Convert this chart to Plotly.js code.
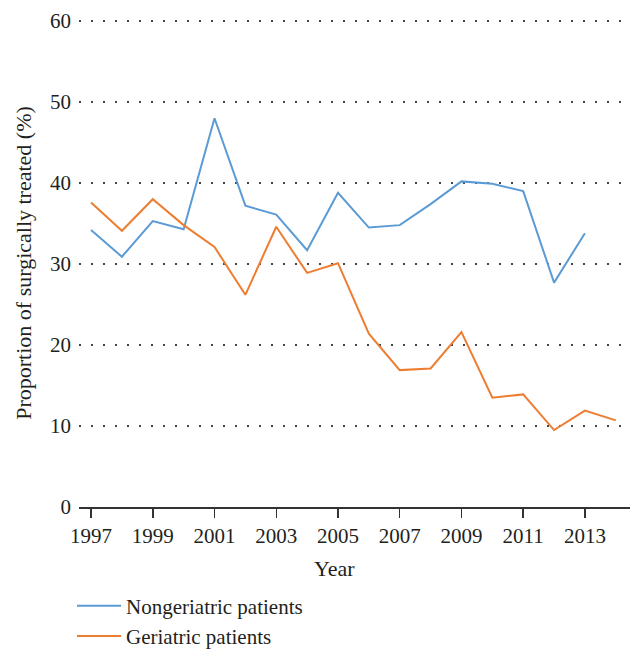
<!DOCTYPE html>
<html>
<head>
<meta charset="utf-8">
<script src="https://cdn.plot.ly/plotly-3.0.1.min.js"></script>
<style>html,body{margin:0;padding:0;background:#fff;}#chart{width:644px;height:661px;}</style>
</head>
<body>
<div id="chart"></div>
<script>
const years = [1997,1998,1999,2000,2001,2002,2003,2004,2005,2006,2007,2008,2009,2010,2011,2012,2013,2014];
const nongeriatricYears = [1997,1998,1999,2000,2001,2002,2003,2004,2005,2006,2007,2008,2009,2010,2011,2012,2013];
const nongeriatric = [34.2,30.9,35.3,34.3,48.0,37.2,36.1,31.7,38.8,34.5,34.8,37.4,40.2,39.9,39.0,27.7,33.8];
const geriatric = [37.6,34.1,38.0,34.8,32.1,26.2,34.6,28.9,30.1,21.4,16.9,17.1,21.6,13.5,13.9,9.5,11.9,10.7];
const seriesNames = ["Nongeriatric patients","Geriatric patients"];
const xTitle = "Year";
const yTitle = "Proportion of surgically treated (%)";

const font = "Liberation Serif";
const txt = '#231f20';
const traces = [
  {x: nongeriatricYears, y: nongeriatric, name: seriesNames[0], type: 'scatter', mode: 'lines',
   line: {color: '#5b9bd5', width: 2}},
  {x: years, y: geriatric, name: seriesNames[1], type: 'scatter', mode: 'lines',
   line: {color: '#ed7d31', width: 2}}
];
const layout = {
  width: 644, height: 661,
  margin: {l: 79, r: 14, t: 19, b: 154},
  paper_bgcolor: '#fff', plot_bgcolor: '#fff',
  font: {family: font, size: 22, color: txt},
  showlegend: true,
  legend: {xref: 'paper', yref: 'container', x: -0.0127, y: 1 - 585.5/661, xanchor: 'left', yanchor: 'top',
           font: {family: font, size: 21, color: txt}, tracegroupgap: 0, itemwidth: 44},
  xaxis: {
    range: [1996.61, 2014.46], tick0: 1997, dtick: 2, tickmode: 'linear',
    showgrid: false, zeroline: false,
    showline: true, linecolor: '#333', linewidth: 1.5,
    ticks: 'outside', ticklen: 9, tickcolor: '#333', tickwidth: 1.5,
    tickfont: {family: font, size: 21, color: txt}
  },
  yaxis: {
    range: [0, 60.25], dtick: 10, tick0: 0, tickmode: 'linear',
    showgrid: true, gridcolor: '#444', gridwidth: 1.2, griddash: '1.5px,10.5px',
    zeroline: false, showline: false, ticks: '',
    ticklabelstandoff: 7,
    tickfont: {family: font, size: 21, color: txt},
    title: {text: yTitle, font: {family: font, size: 22, color: txt}, standoff: 12}
  },
  annotations: [
    {text: xTitle, xref: 'paper', yref: 'paper', x: 0.4628, y: -0.125, xanchor: 'center', yanchor: 'middle',
     showarrow: false, font: {family: font, size: 22, color: txt}}
  ]
};
Plotly.newPlot('chart', traces, layout, {displayModeBar: false, staticPlot: true});
</script>
</body>
</html>
